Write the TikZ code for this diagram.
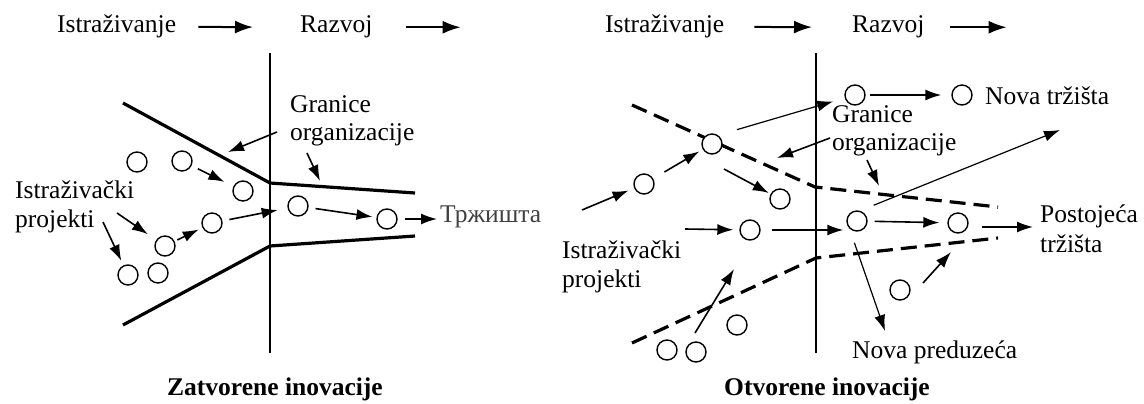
\documentclass[tikz,border=0pt]{standalone}
\usepackage{fontspec}
\setmainfont{Liberation Serif}
\usetikzlibrary{arrows.meta}

\begin{document}
\begin{tikzpicture}[x=1pt,y=-1pt,
  every node/.style={inner sep=0pt, font=\fontsize{25.5}{29}\selectfont},
  lbl/.style={anchor=base west},
  ttl/.style={anchor=base, font=\bfseries\fontsize{25.5}{29}\selectfont},
  proj/.style={circle, draw, line width=1.4pt, fill=white, minimum size=20pt, inner sep=0pt},
  wall/.style={line width=3.2pt},
  dwall/.style={line width=3.2pt, dash pattern=on 16pt off 8pt},
  stage/.style={line width=1.6pt},
  flow/.style={line width=1.6pt, -{Latex[length=16pt,width=11pt]}},
  thinflow/.style={line width=1.2pt, -{Latex[length=16pt,width=11pt]}},
  phase/.style={line width=2pt, -{Latex[length=18pt,width=13pt]}},
]
\useasboundingbox (0,0) rectangle (1144,404);

% ---------------- closed innovation ----------------
\draw[stage] (270,53) -- (270,353);
\draw[wall] (123,103) -- (270,183) -- (415,193);
\draw[wall] (123,325) -- (270,246) -- (415,236);

\node[proj] (c1) at (137,162) {};
\node[proj] (c2) at (182,161) {};
\node[proj] (c3) at (243,191) {};
\node[proj] (c4) at (212,223) {};
\node[proj] (c5) at (165,246) {};
\node[proj] (c6) at (128,275) {};
\node[proj] (c7) at (158,273) {};
\node[proj] (c8) at (298,206) {};
\node[proj] (c9) at (387,219) {};

\node[lbl] (istL) at (57,33) {Istraživanje};
\node[lbl] (razL) at (300,33) {Razvoj};
\coordinate (razLend) at ([xshift=88pt]razL.east);
\draw[phase, shorten <=22pt, shorten >=47pt] (istL.east) -- (razL.west);
\draw[phase, shorten <=33pt] (razL.east) -- (razLend);

\node[lbl] (grL1) at (290,112) {Granice};
\node[lbl] (grL2) at (290,140) {organizacije};
\coordinate (grLat) at (277,132);
\coordinate (grLah) at (228,152);
\coordinate (grLbt) at (307,153);
\coordinate (grLbh) at (320,181);
\draw[flow] (grLat) -- (grLah);
\draw[flow] (grLbt) -- (grLbh);

\node[lbl] (ipL1) at (15,198) {Istraživački};
\node[lbl] (ipL2) at (15,227) {projekti};
\coordinate (ipLa) at (117,213);
\coordinate (ipLb) at (103,222);
\draw[flow, shorten >=10pt] (ipLa) -- (c5);
\draw[flow, shorten >=5pt] (ipLb) -- (c6);

\draw[flow, shorten <=7pt, shorten >=10pt] (c2) -- (c3);
\draw[flow, shorten <=3pt, shorten >=4pt] (c5) -- (c4);
\draw[flow, shorten <=7pt, shorten >=10pt] (c4) -- (c8);
\draw[flow, shorten <=7pt, shorten >=4pt] (c8) -- (c9);

\node[lbl, text=black!75] (mkL) at (440,222) {Тржишта};
\draw[flow, shorten <=7pt, shorten >=3pt] (c9) -- (c9 -| mkL.west);

\node[ttl] (ttL) at (275,395) {Zatvorene inovacije};

% ---------------- open innovation ----------------
\draw[stage] (816,53) -- (816,353);
\draw[dwall] (632,105) -- (815,187) -- (998,207);
\draw[dwall] (632,343) -- (816,258) -- (998,238);

% long arrows drawn beneath the circles
\node[proj] (r5) at (857,221) {};
\coordinate (ntA) at (1060,130);
\draw[thinflow, shorten <=18pt] ([yshift=9pt]r5.center) -- (ntA);
\coordinate (npA) at (885,331);
\draw[thinflow, shorten <=15pt] (r5.225) -- (npA);

\node[proj] (r1) at (644,184) {};
\node[proj] (r2) at (712,144) {};
\node[proj] (r3) at (780,199) {};
\node[proj] (r4) at (750,230) {};
\node[proj] (r6) at (855,95) {};
\node[proj] (r7) at (962,95) {};
\node[proj] (r8) at (958,223) {};
\node[proj] (r9) at (900,290) {};
\node[proj] (r10) at (737,325) {};
\node[proj] (r11) at (667,350) {};
\node[proj] (r12) at (696,352) {};

\node[lbl] (istR) at (605,33) {Istraživanje};
\node[lbl] (razR) at (852,33) {Razvoj};
\coordinate (razRend) at ([xshift=82pt]razR.east);
\draw[phase, shorten <=30pt, shorten >=40pt] (istR.east) -- (razR.west);
\draw[phase, shorten <=25pt] (razR.east) -- (razRend);

\node[lbl] (grR1) at (832,122) {Granice};
\node[lbl] (grR2) at (832,150) {organizacije};
\coordinate (grRat) at (830,138);
\coordinate (grRah) at (777,158);
\coordinate (grRbt) at (867,160);
\coordinate (grRbh) at (879,186);
\draw[flow] (grRat) -- (grRah);
\draw[flow] (grRbt) -- (grRbh);

\node[lbl] (nt) at (985,104) {Nova tržišta};
\node[lbl] (pt1) at (1040,222) {Postojeća};
\node[lbl] (pt2) at (1040,252) {tržišta};
\node[lbl] (np) at (852,358) {Nova preduzeća};
\node[lbl] (ipR1) at (562,258) {Istraživački};
\node[lbl] (ipR2) at (562,287) {projekti};

\coordinate (inA) at (582,210);
\draw[flow, shorten >=6pt] (inA) -- (r1);
\draw[flow, shorten <=13pt, shorten >=4pt] (r1) -- (r2);
\draw[thinflow, shorten <=26pt, shorten >=12pt] ([yshift=7pt]r2.center) -- (r6);
\coordinate (r2o) at (724,169);
\draw[flow, shorten >=2pt] (r2o) -- (r3);
\draw[flow, shorten <=4pt, shorten >=10pt] (r6) -- (r7);

\coordinate (inB) at (685,229);
\draw[flow, shorten >=6pt] (inB) -- (r4);
\draw[flow, shorten <=11pt, shorten >=3pt] (r4) -- (r4 -| r5.west);
\draw[flow, shorten <=7pt, shorten >=8pt] (r5) -- (r8);
\draw[flow, shorten <=13pt, shorten >=7pt] ([yshift=-4pt]r8.east) -- ([yshift=-4pt]r8.east -| pt1.west);

\coordinate (r9A) at (923,283);
\coordinate (r8A) at (951,252);
\draw[flow] (r9A) -- (r8A);
\coordinate (r12A) at (695,333);
\coordinate (r4A) at (734,269);
\draw[flow] (r12A) -- (r4A);

\node[ttl] (ttR) at (827,395) {Otvorene inovacije};
\end{tikzpicture}
\end{document}
